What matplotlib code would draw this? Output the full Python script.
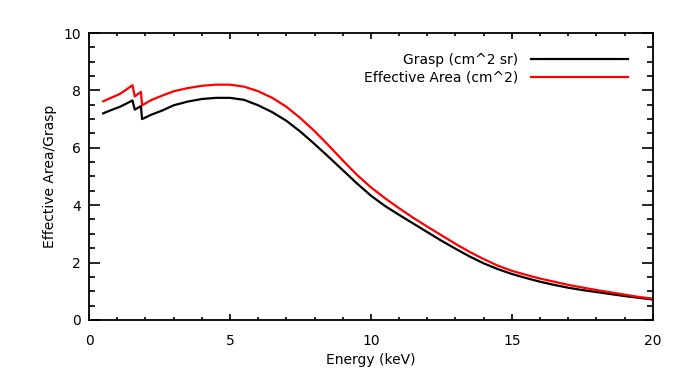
import matplotlib
matplotlib.use('Agg')
import matplotlib.pyplot as plt
from matplotlib.ticker import MultipleLocator

# Energy grid (keV) and curves
energy = [0.5, 0.8, 1.1, 1.54, 1.62, 1.84, 1.88, 2.2, 2.6, 3.0, 3.5, 4.0, 4.5,
          5.0, 5.5, 6.0, 6.5, 7.0, 7.5, 8.0, 8.5, 9.0, 9.5, 10.0, 10.5, 11.0,
          11.5, 12.0, 12.5, 13.0, 13.5, 14.0, 14.5, 15.0, 15.5, 16.0, 16.5,
          17.0, 17.5, 18.0, 18.5, 19.0, 19.5, 20.0]

grasp = [7.20, 7.32, 7.43, 7.65, 7.33, 7.45, 7.00, 7.15, 7.30, 7.48, 7.61, 7.70,
         7.74, 7.74, 7.67, 7.48, 7.24, 6.94, 6.56, 6.13, 5.68, 5.22, 4.76, 4.33,
         3.97, 3.66, 3.36, 3.06, 2.76, 2.48, 2.21, 1.97, 1.77, 1.60, 1.46, 1.33,
         1.22, 1.12, 1.04, 0.97, 0.90, 0.83, 0.77, 0.71]

eff_area = [7.62, 7.75, 7.88, 8.18, 7.79, 7.95, 7.48, 7.66, 7.82, 7.97, 8.08, 8.16,
            8.20, 8.20, 8.13, 7.97, 7.74, 7.43, 7.03, 6.58, 6.08, 5.56, 5.06, 4.62,
            4.24, 3.89, 3.56, 3.25, 2.95, 2.65, 2.37, 2.12, 1.89, 1.71, 1.57, 1.44,
            1.33, 1.22, 1.13, 1.04, 0.96, 0.88, 0.80, 0.74]

fig = plt.figure(figsize=(6.8, 3.84), dpi=100)
ax = fig.add_axes([0.131, 0.167, 0.829, 0.747])

ax.plot(energy, grasp, color='black', lw=1.6, label='Grasp (cm^2 sr)')
ax.plot(energy, eff_area, color='red', lw=1.6, label='Effective Area (cm^2)')

ax.set_xlim(0, 20)
ax.set_ylim(0, 10)
ax.xaxis.set_major_locator(MultipleLocator(5))
ax.xaxis.set_minor_locator(MultipleLocator(1))
ax.yaxis.set_major_locator(MultipleLocator(2))
ax.yaxis.set_minor_locator(MultipleLocator(0.5))

ax.tick_params(which='both', direction='in', top=True, right=True,
               colors='black', width=1.2, labelsize=10)
ax.tick_params(axis='y', which='major', length=8, pad=6)
ax.tick_params(axis='y', which='minor', length=4)
ax.tick_params(axis='x', which='major', length=4.2, pad=10)
ax.tick_params(axis='x', which='minor', length=2.2)
for s in ax.spines.values():
    s.set_linewidth(1.3)

ax.set_xlabel('Energy (keV)', fontsize=10, labelpad=4)
ax.set_ylabel('Effective Area/Grasp', fontsize=10)
ax.yaxis.set_label_coords(-0.057, 0.5)

ax.legend(loc='upper right', bbox_to_anchor=(0.978, 0.975), frameon=False,
          markerfirst=False, fontsize=10, handlelength=7.0, handletextpad=0.9,
          labelspacing=0.3)

plt.savefig('out.png', dpi=100)
